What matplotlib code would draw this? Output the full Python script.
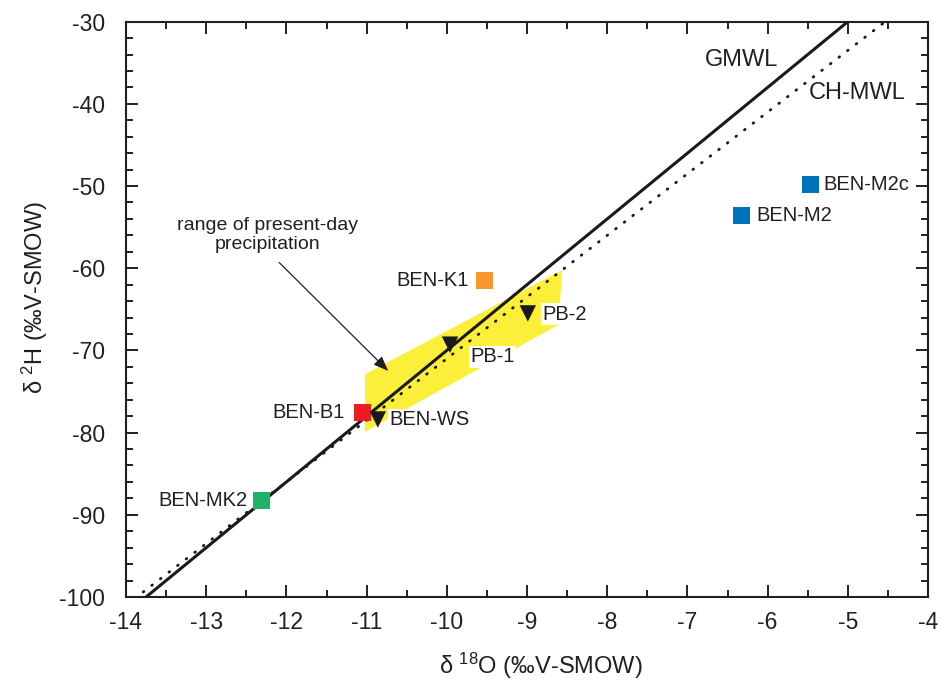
import matplotlib
matplotlib.use("Agg")
import matplotlib.pyplot as plt
import numpy as np
from matplotlib.patches import Polygon
from matplotlib.ticker import MultipleLocator

plt.rcParams['font.family'] = ['Liberation Sans', 'DejaVu Sans']
plt.rcParams['mathtext.fontset'] = 'custom'
plt.rcParams['mathtext.rm'] = 'Liberation Sans'
plt.rcParams['mathtext.default'] = 'regular'
plt.rcParams['axes.unicode_minus'] = False

# Spring / well samples (squares)
sq_names = ["BEN-M2c", "BEN-M2", "BEN-K1", "BEN-B1", "BEN-MK2"]
sq_d18o = [-5.47, -6.32, -9.53, -11.05, -12.31]
sq_d2h = [-49.8, -53.6, -61.5, -77.6, -88.2]
sq_colors = ["#0071BC", "#0071BC", "#F7982F", "#ED1C24", "#21B16A"]

# Precipitation / water samples (down triangles)
tri_names = ["PB-2", "PB-1", "BEN-WS"]
tri_d18o = [-8.99, -9.96, -10.86]
tri_d2h = [-65.5, -69.3, -78.4]

# Meteoric water lines: d2H = slope * d18O + intercept
gmwl_slope, gmwl_intercept = 8.0, 10.0
chmwl_slope, chmwl_intercept = 7.5, 4.0

# Range of present-day precipitation (outline in d18O, d2H)
precip_d18o = [-11.02, -11.02, -8.61, -8.56]
precip_d2h = [-72.9, -79.9, -66.9, -60.2]

fig = plt.figure(figsize=(9.41, 6.84), dpi=100)
ax = fig.add_axes([0.1339, 0.1272, 0.8523, 0.8411])

ax.add_patch(Polygon(np.column_stack([precip_d18o, precip_d2h]), closed=True,
                     facecolor="#FBEF3A", edgecolor="none", zorder=1))

xg = np.linspace(-14, -5, 200)
ax.plot(xg, gmwl_slope * xg + gmwl_intercept, color="#1a1a1a", lw=2.2, zorder=3)
xc = np.linspace(-14, -4.55, 200)
ax.plot(xc, chmwl_slope * xc + chmwl_intercept, color="#1a1a1a", lw=2.0,
        linestyle=(0, (0.3, 3.6)), dash_capstyle="round", zorder=3)

ax.scatter(sq_d18o, sq_d2h, marker="s", s=150, c=sq_colors, edgecolors="none", zorder=5)
ax.scatter(tri_d18o, tri_d2h, marker="v", s=140, c="#1a1a1a", edgecolors="none", zorder=5)

lab_kw = dict(fontsize=14.5, color="#231f20", va="center", zorder=6,
              bbox=dict(fc="white", ec="none", pad=1.0))
# label offsets (d18O, d2H) and alignment for each sample
sq_off = [(0.17, 0.0, "left"), (0.18, 0.0, "left"), (-0.2, 0.0, "right"),
          (-0.22, 0.1, "right"), (-0.18, 0.0, "right")]
for n, x, y, (dx, dy, ha) in zip(sq_names, sq_d18o, sq_d2h, sq_off):
    ax.text(x + dx, y + dy, n, ha=ha, **lab_kw)
tri_off = [(0.18, -0.1, "left"), (0.25, -1.45, "left"), (0.14, -0.05, "left")]
for n, x, y, (dx, dy, ha) in zip(tri_names, tri_d18o, tri_d2h, tri_off):
    ax.text(x + dx, y + dy, n, ha=ha, **lab_kw)

ax.text(-6.78, -34.7, "GMWL", fontsize=17, va="center", ha="left", color="#231f20")
ax.text(-5.49, -38.7, "CH-MWL", fontsize=17, va="center", ha="left", color="#231f20")

ax.text(-12.24, -55.9, "range of present-day\nprecipitation", ha="center",
        va="center", fontsize=14, color="#231f20", linespacing=1.15)
ax.annotate("", xy=(-10.73, -72.5), xytext=(-12.09, -59.3),
            arrowprops=dict(arrowstyle="-|>,head_length=0.9,head_width=0.35",
                            color="#231f20", lw=0.9, shrinkA=0, shrinkB=0),
            zorder=4)

ax.set_xlim(-14, -4)
ax.set_ylim(-100, -30)
ax.xaxis.set_major_locator(MultipleLocator(1))
ax.xaxis.set_minor_locator(MultipleLocator(0.5))
ax.yaxis.set_major_locator(MultipleLocator(10))
ax.yaxis.set_minor_locator(MultipleLocator(2))
ax.tick_params(which="both", direction="in", top=True, right=True, width=1.4,
               color="#231f20")
ax.tick_params(which="major", length=8.5, labelsize=16.5, labelcolor="#231f20")
ax.tick_params(axis="x", which="major", pad=10)
ax.tick_params(axis="y", which="major", pad=15)
ax.tick_params(which="minor", length=5)
for s in ax.spines.values():
    s.set_linewidth(1.5)
    s.set_color("#231f20")

ax.set_xlabel(r"δ $^{18}$O (‰V-SMOW)", fontsize=17, color="#231f20")
ax.set_ylabel(r"δ $^{2}$H (‰V-SMOW)", fontsize=17, color="#231f20")
ax.xaxis.set_label_coords(0.517, -0.093)
ax.yaxis.set_label_coords(-0.095, 0.52)

fig.savefig("out.png", dpi=100)
